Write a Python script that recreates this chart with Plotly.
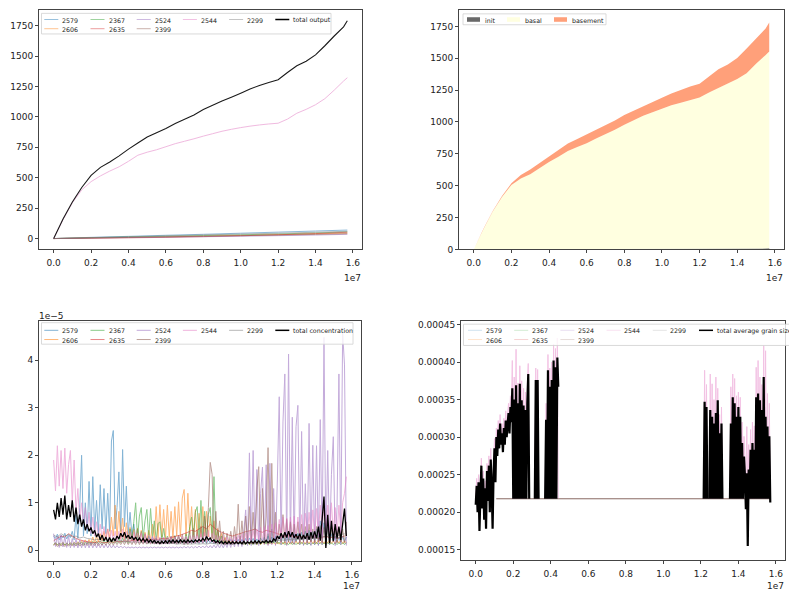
import numpy as np
import plotly.graph_objects as go

W, H = 789, 591
FONT = "DejaVu Sans"
TEXT = "#222222"
FRAME = "#444444"

PROVENANCE = ["2579", "2606", "2367", "2635", "2524", "2399", "2544", "2299"]
TAB10 = ["#1f77b4", "#ff7f0e", "#2ca02c", "#d62728", "#9467bd", "#8c564b", "#e377c2", "#7f7f7f"]

X_TICKS = [0.0, 0.2, 0.4, 0.6, 0.8, 1.0, 1.2, 1.4, 1.6]          # x 1e7 yr
X_TICK_TEXT = ["0.0", "0.2", "0.4", "0.6", "0.8", "1.0", "1.2", "1.4", "1.6"]
OUT_TICKS = [0, 250, 500, 750, 1000, 1250, 1500, 1750]
CONC_TICKS = [0, 1, 2, 3, 4]                                       # x 1e-5
GS_TICKS = [0.00015, 0.00020, 0.00025, 0.00030, 0.00035, 0.00040, 0.00045]
GS_TICK_TEXT = ["0.00015", "0.00020", "0.00025", "0.00030", "0.00035", "0.00040", "0.00045"]

# ---------------- cumulative output (time in 1e7 yr) ----------------
t_out = [0.00, 0.05, 0.10, 0.15, 0.20, 0.25, 0.30, 0.35, 0.40, 0.45, 0.50,
         0.55, 0.60, 0.65, 0.70, 0.75, 0.80, 0.85, 0.90, 0.95, 1.00, 1.05,
         1.10, 1.15, 1.20, 1.25, 1.30, 1.35, 1.40, 1.45, 1.50, 1.55, 1.57]
total_output = [0, 160, 300, 420, 520, 585, 630, 680, 735, 785, 835,
                870, 905, 945, 980, 1015, 1060, 1095, 1130, 1162, 1195, 1230,
                1258, 1283, 1305, 1365, 1420, 1458, 1510, 1585, 1665, 1740, 1790]
out_2544 = [0, 155, 295, 400, 468, 515, 555, 590, 635, 685, 710,
            730, 755, 780, 800, 820, 842, 862, 882, 898, 912, 924,
            934, 942, 948, 982, 1030, 1062, 1100, 1150, 1220, 1295, 1322]

t_out_minor = [0.0, 0.2, 0.4, 0.6, 0.8, 1.0, 1.2, 1.4, 1.57]
out_2579 = [0, 10, 18, 27, 35, 44, 53, 62, 70]
out_2606 = [0, 5, 9, 14, 20, 26, 32, 39, 45]
out_2367 = [0, 7, 13, 19, 25, 31, 38, 46, 55]
out_2635 = [0, 3, 6, 10, 16, 23, 31, 41, 52]
out_2524 = [0, 4, 8, 11, 15, 19, 24, 29, 35]
out_2399 = [0, 5, 10, 14, 19, 24, 29, 34, 40]
out_2299 = [0, 8, 15, 22, 30, 37, 44, 52, 60]

# ---------------- output by source ----------------
init_out = [0, 0.2, 0.5, 0.7, 1.0, 1.3, 1.5, 1.8, 2.1, 2.3, 2.6,
            2.9, 3.1, 3.4, 3.6, 3.9, 4.2, 4.4, 4.7, 5.0, 5.2, 5.5,
            5.8, 6.0, 6.3, 6.6, 6.9, 7.1, 7.4, 7.7, 8.0, 8.3, 8.5]
basal_out = [0, 155, 295, 410, 505, 555, 588, 635, 685, 725, 770,
             800, 830, 868, 900, 935, 975, 1010, 1045, 1072, 1100, 1125,
             1145, 1165, 1185, 1225, 1262, 1295, 1330, 1375, 1450, 1515, 1545]
basement_out = [0, 4, 5, 8, 13, 28, 38, 41, 46, 55, 59,
                64, 69, 71, 72, 72, 76, 76, 75, 80, 85, 94,
                102, 107, 109, 128, 145, 149, 165, 194, 199, 209, 228]

# ---------------- concentration (x 1e-5), sampled every 0.01e7 yr ----------------
t_conc = np.round(np.arange(158) * 0.01, 2)
t_conc_coarse = np.round(np.arange(79) * 0.02, 2)

conc_2579 = [0.30, 0.25, 0.34, 0.22, 0.31, 0.26, 0.36, 0.24, 0.33, 0.27,
             0.40, 0.22, 0.75, 0.25, 0.90, 2.00, 0.30, 1.00, 0.35, 1.45,
             0.30, 1.55, 0.40, 1.05, 0.35, 1.38, 0.45, 1.30, 0.35, 1.20,
             0.40, 2.30, 2.52, 0.45, 0.90, 1.65, 0.40, 2.12, 0.50, 1.35,
             0.35, 0.80, 0.30, 0.55, 0.25, 0.45, 0.22, 0.40, 0.20, 0.35,
             0.18, 0.30, 0.17, 0.28, 0.16, 0.25, 0.15, 0.24, 0.15, 0.22,
             0.14, 0.21, 0.14, 0.22, 0.15, 0.20, 0.14, 0.21, 0.15, 0.20,
             0.14, 0.21, 0.15, 0.20, 0.14, 0.22, 0.15, 0.21, 0.14, 0.20,
             0.15, 0.21, 0.14, 0.22, 0.15, 0.20, 0.14, 0.21, 0.15, 0.22,
             0.15, 0.22, 0.16, 0.21, 0.15, 0.23, 0.16, 0.22, 0.15, 0.23,
             0.16, 0.23, 0.17, 0.25, 0.16, 0.26, 0.17, 0.25, 0.16, 0.24,
             0.17, 0.26, 0.18, 0.28, 0.17, 0.30, 0.18, 0.28, 0.17, 0.29,
             0.18, 0.30, 0.18, 0.32, 0.19, 0.33, 0.18, 0.35, 0.19, 0.34,
             0.19, 0.36, 0.20, 0.38, 0.20, 0.40, 0.21, 0.42, 0.20, 0.40,
             0.20, 0.45, 0.22, 0.62, 0.25, 0.58, 0.20, 0.55, 0.18, 0.35,
             0.18, 0.30, 0.17, 0.28, 0.16, 0.30, 0.18, 0.28]
conc_2606 = [0.12, 0.16, 0.11, 0.15, 0.12, 0.17, 0.11, 0.15, 0.12, 0.16,
             0.12, 0.17, 0.13, 0.18, 0.13, 0.20, 0.14, 0.22, 0.15, 0.23,
             0.15, 0.28, 0.16, 0.30, 0.18, 0.35, 0.20, 0.40, 0.22, 0.45,
             0.25, 0.70, 0.30, 0.95, 0.28, 0.82, 0.25, 0.68, 0.22, 0.58,
             0.22, 0.48, 0.20, 0.44, 0.22, 0.47, 0.20, 0.42, 0.18, 0.38,
             0.20, 0.42, 0.22, 0.55, 0.25, 0.92, 0.25, 0.96, 0.28, 0.86,
             0.25, 0.95, 0.28, 0.82, 0.25, 0.92, 0.30, 1.02, 0.28, 1.10,
             1.28, 0.30, 1.20, 0.35, 0.92, 0.28, 0.86, 0.30, 0.78, 0.28,
             0.92, 0.30, 0.82, 0.28, 0.72, 0.25, 0.62, 0.22, 0.46, 0.20,
             0.36, 0.18, 0.27, 0.16, 0.22, 0.15, 0.21, 0.14, 0.20, 0.14,
             0.19, 0.13, 0.18, 0.13, 0.18, 0.12, 0.17, 0.13, 0.18, 0.12,
             0.17, 0.12, 0.18, 0.13, 0.17, 0.12, 0.18, 0.13, 0.17, 0.12,
             0.18, 0.13, 0.19, 0.13, 0.18, 0.12, 0.19, 0.13, 0.18, 0.13,
             0.19, 0.13, 0.20, 0.14, 0.19, 0.13, 0.20, 0.14, 0.21, 0.14,
             0.21, 0.14, 0.22, 0.15, 0.20, 0.14, 0.21, 0.15, 0.22, 0.14,
             0.20, 0.14, 0.21, 0.15, 0.22, 0.14, 0.20, 0.15]
conc_2367 = [0.12, 0.16, 0.11, 0.15, 0.12, 0.16, 0.11, 0.15, 0.12, 0.15,
             0.12, 0.16, 0.12, 0.16, 0.13, 0.17, 0.12, 0.17, 0.13, 0.18,
             0.13, 0.19, 0.14, 0.19, 0.14, 0.20, 0.14, 0.21, 0.15, 0.22,
             0.15, 0.23, 0.15, 0.24, 0.16, 0.25, 0.16, 0.26, 0.17, 0.30,
             0.15, 0.45, 0.20, 0.60, 1.00, 0.25, 0.72, 0.90, 0.25, 0.62,
             0.86, 0.25, 0.88, 0.28, 0.62, 0.22, 0.56, 0.60, 0.20, 0.46,
             0.18, 0.30, 0.16, 0.30, 0.15, 0.31, 0.14, 0.30, 0.15, 0.26,
             0.15, 0.35, 0.18, 0.50, 0.70, 0.22, 0.80, 0.92, 0.25, 1.05,
             0.25, 0.82, 0.22, 0.76, 0.90, 0.25, 1.55, 0.20, 0.42, 0.18,
             0.30, 0.15, 0.22, 0.14, 0.19, 0.13, 0.17, 0.14, 0.16, 0.13,
             0.16, 0.12, 0.15, 0.12, 0.17, 0.12, 0.15, 0.12, 0.16, 0.12,
             0.16, 0.13, 0.17, 0.20, 0.13, 0.35, 0.14, 0.45, 0.15, 0.20,
             0.14, 0.17, 0.12, 0.17, 0.12, 0.15, 0.12, 0.17, 0.12, 0.16,
             0.12, 0.16, 0.12, 0.17, 0.12, 0.15, 0.12, 0.15, 0.12, 0.16,
             0.12, 0.17, 0.12, 0.16, 0.12, 0.16, 0.12, 0.16, 0.12, 0.16,
             0.12, 0.16, 0.12, 0.16, 0.12, 0.16, 0.12, 0.16]
conc_2635 = [0.20, 0.25, 0.30, 0.28, 0.35, 0.30, 0.25, 0.22, 0.20, 0.18,
             0.17, 0.16, 0.18, 0.17, 0.16, 0.18, 0.17, 0.19, 0.18, 0.20,
             0.19, 0.21, 0.20, 0.22, 0.21, 0.23, 0.22, 0.24, 0.23, 0.25,
             0.24, 0.26, 0.28, 0.30, 0.32, 0.35, 0.38, 0.42, 0.40, 0.45,
             0.50, 0.45, 0.55, 0.48, 0.42, 0.38, 0.35, 0.32, 0.30, 0.33,
             0.35, 0.38, 0.40, 0.42, 0.45, 0.40, 0.38, 0.42, 0.40, 0.38,
             0.35, 0.33, 0.30, 0.32, 0.30, 0.28, 0.30, 0.27, 0.29, 0.26,
             0.28, 0.25, 0.27, 0.30, 0.26, 0.28, 0.25, 0.27, 0.30]
conc_2524 = [0.35, 0.08, 0.30, 0.06, 0.32, 0.07, 0.28, 0.06, 0.30, 0.05,
             0.25, 0.06, 0.24, 0.05, 0.22, 0.05, 0.20, 0.05, 0.19, 0.05,
             0.17, 0.05, 0.16, 0.05, 0.15, 0.05, 0.14, 0.05, 0.13, 0.05,
             0.12, 0.05, 0.11, 0.05, 0.10, 0.05, 0.09, 0.05, 0.08, 0.05,
             0.07, 0.05, 0.07, 0.05, 0.07, 0.05, 0.07, 0.05, 0.07, 0.05,
             0.07, 0.05, 0.07, 0.05, 0.07, 0.05, 0.07, 0.05, 0.07, 0.05,
             0.07, 0.05, 0.07, 0.05, 0.07, 0.05, 0.07, 0.05, 0.07, 0.05,
             0.08, 0.05, 0.08, 0.05, 0.08, 0.05, 0.08, 0.05, 0.09, 0.05,
             0.09, 0.05, 0.10, 0.05, 0.10, 0.05, 0.11, 0.05, 0.12, 0.05,
             0.13, 0.05, 0.15, 0.06, 0.18, 0.06, 0.22, 0.07, 0.28, 0.08,
             0.30, 0.08, 0.40, 0.85, 0.10, 2.05, 0.10, 2.10, 0.12, 1.70,
             0.10, 1.20, 1.75, 0.12, 1.80, 0.10, 1.83, 0.12, 1.30, 0.10,
             1.50, 3.23, 0.12, 2.70, 3.71, 0.10, 4.13, 0.15, 2.80, 0.12,
             2.60, 3.05, 0.12, 2.50, 0.10, 1.40, 0.12, 2.67, 0.10, 2.21,
             0.12, 2.20, 0.10, 2.75, 0.12, 4.48, 0.10, 2.10, 0.12, 1.60,
             2.39, 0.10, 0.90, 3.71, 0.12, 4.57, 3.90, 0.10]
conc_2399 = [0.10, 0.14, 0.08, 0.12, 0.09, 0.13, 0.08, 0.12, 0.09, 0.13,
             0.09, 0.13, 0.09, 0.14, 0.09, 0.13, 0.10, 0.14, 0.10, 0.15,
             0.10, 0.15, 0.10, 0.16, 0.10, 0.15, 0.11, 0.16, 0.11, 0.17,
             0.11, 0.17, 0.11, 0.18, 0.12, 0.18, 0.12, 0.19, 0.12, 0.20,
             0.12, 0.19, 0.12, 0.20, 0.12, 0.21, 0.12, 0.20, 0.13, 0.22,
             0.13, 0.22, 0.13, 0.23, 0.13, 0.24, 0.14, 0.25, 0.14, 0.26,
             0.14, 0.26, 0.14, 0.28, 0.14, 0.30, 0.14, 0.32, 0.14, 0.34,
             0.12, 0.28, 0.12, 0.38, 0.14, 0.46, 0.15, 0.42, 0.15, 0.50,
             0.15, 0.72, 0.15, 0.90, 1.85, 1.60, 0.15, 0.82, 0.14, 0.62,
             0.14, 0.40, 0.12, 0.36, 0.14, 0.40, 0.12, 0.50, 0.14, 0.97,
             0.14, 0.62, 0.12, 0.72, 0.15, 0.92, 0.14, 0.80, 0.15, 1.27,
             1.76, 0.15, 1.30, 0.18, 0.70, 2.16, 0.15, 1.83, 0.18, 0.80,
             0.15, 0.55, 0.18, 0.75, 0.15, 0.65, 0.18, 0.60, 0.15, 0.55,
             0.18, 0.60, 0.15, 0.55, 0.18, 0.50, 0.15, 0.55, 0.18, 0.45,
             0.15, 0.50, 0.18, 0.52, 0.15, 0.48, 0.18, 0.50, 0.15, 0.45,
             0.18, 0.48, 0.15, 0.46, 0.18, 0.45, 0.15, 0.60]
conc_2544 = [1.90, 1.25, 2.20, 1.35, 2.10, 1.30, 2.15, 1.20, 1.80, 2.10,
             1.00, 1.90, 0.80, 1.30, 0.60, 1.00, 0.55, 0.90, 0.45, 0.80,
             0.35, 0.70, 0.30, 0.60, 0.28, 0.55, 0.25, 0.50, 0.22, 0.45,
             0.20, 0.42, 0.20, 0.40, 0.18, 0.40, 0.20, 0.45, 0.18, 0.40,
             0.18, 0.40, 0.17, 0.38, 0.16, 0.36, 0.16, 0.36, 0.15, 0.34,
             0.15, 0.32, 0.14, 0.30, 0.14, 0.30, 0.13, 0.28, 0.13, 0.28,
             0.13, 0.28, 0.13, 0.30, 0.14, 0.28, 0.13, 0.30, 0.14, 0.30,
             0.14, 0.30, 0.14, 0.30, 0.15, 0.31, 0.15, 0.33, 0.16, 0.35,
             0.16, 0.38, 0.18, 0.42, 0.17, 0.36, 0.16, 0.32, 0.15, 0.30,
             0.14, 0.29, 0.13, 0.28, 0.13, 0.27, 0.14, 0.30, 0.14, 0.32,
             0.15, 0.35, 0.15, 0.36, 0.16, 0.40, 0.17, 0.42, 0.18, 0.45,
             0.18, 0.48, 0.20, 0.50, 0.20, 0.52, 0.22, 0.55, 0.22, 0.58,
             0.25, 0.65, 0.25, 0.70, 0.28, 0.68, 0.26, 0.70, 0.28, 0.72,
             0.26, 0.70, 0.28, 0.75, 0.30, 0.78, 0.28, 0.80, 0.30, 0.85,
             0.30, 0.88, 0.32, 0.95, 0.30, 1.05, 0.35, 0.95, 0.32, 1.00,
             0.35, 0.90, 0.30, 0.95, 0.35, 1.00, 1.20, 1.55]
conc_2299 = [0.32, 0.28, 0.35, 0.30, 0.33, 0.28, 0.30, 0.26, 0.28, 0.25,
             0.24, 0.22, 0.23, 0.21, 0.22, 0.20, 0.21, 0.19, 0.20, 0.18,
             0.19, 0.17, 0.18, 0.16, 0.17, 0.15, 0.16, 0.15, 0.16, 0.14,
             0.15, 0.14, 0.15, 0.13, 0.14, 0.13, 0.14, 0.13, 0.14, 0.13,
             0.14, 0.13, 0.15, 0.14, 0.13, 0.14, 0.13, 0.14, 0.13, 0.14,
             0.14, 0.15, 0.14, 0.16, 0.15, 0.17, 0.16, 0.18, 0.17, 0.19,
             0.20, 0.22, 0.21, 0.23, 0.22, 0.24, 0.23, 0.25, 0.24, 0.26,
             0.25, 0.28, 0.30, 0.27, 0.32, 0.28, 0.30, 0.33, 0.35]
conc_total = [0.85, 0.65, 1.00, 0.70, 1.10, 0.75, 1.15, 0.65, 0.95, 0.70,
              1.05, 0.60, 0.90, 0.55, 0.75, 0.50, 0.65, 0.42, 0.55, 0.40,
              0.48, 0.35, 0.42, 0.28, 0.35, 0.22, 0.32, 0.20, 0.28, 0.18,
              0.27, 0.18, 0.26, 0.20, 0.30, 0.24, 0.36, 0.28, 0.38, 0.26,
              0.32, 0.24, 0.30, 0.22, 0.28, 0.20, 0.26, 0.19, 0.25, 0.18,
              0.24, 0.17, 0.22, 0.16, 0.21, 0.15, 0.19, 0.14, 0.19, 0.15,
              0.20, 0.15, 0.21, 0.16, 0.22, 0.16, 0.21, 0.16, 0.22, 0.17,
              0.21, 0.16, 0.22, 0.17, 0.21, 0.17, 0.22, 0.18, 0.23, 0.19,
              0.25, 0.20, 0.29, 0.22, 0.26, 0.19, 0.22, 0.16, 0.20, 0.15,
              0.19, 0.14, 0.18, 0.14, 0.19, 0.14, 0.18, 0.14, 0.18, 0.14,
              0.18, 0.14, 0.19, 0.14, 0.18, 0.15, 0.19, 0.15, 0.20, 0.15,
              0.20, 0.15, 0.19, 0.16, 0.21, 0.16, 0.20, 0.17, 0.24, 0.20,
              0.30, 0.24, 0.36, 0.26, 0.38, 0.27, 0.40, 0.28, 0.38, 0.26,
              0.34, 0.24, 0.35, 0.23, 0.32, 0.24, 0.36, 0.22, 0.38, 0.25,
              0.40, 0.25, 0.50, 0.20, 0.65, 1.13, 0.05, 0.75, 0.15, 0.62,
              0.20, 0.55, 0.25, 0.50, 0.22, 0.55, 0.88, 0.30]

# ---------------- average grain size (micrometres) ----------------
t_gs_a = np.round(np.arange(89) * 0.005, 3)
t_gs_b = np.round(1.215 + np.arange(72) * 0.005, 3)
t_gs_absent = [0.11, 1.57]
gs_absent = [218, 218]

gs_total_a = [210, 235, 200, 240, 175, 225, 262, 205, 245, 190,
              232, 178, 255, 215, 262, 200, 270, 232, 178, 250,
              285, 240, 300, 275, 310, 285, 318, 290, 305, 280,
              312, 290, 322, 300, 318, 332, 305, 340, 320, 365,
              218, 350, 218, 369, 218, 345, 218, 371, 218, 349,
              218, 342, 218, 336, 218, 345, 384, 218, None, None,
              None, None, None, 218, 376, 218, 376, 218, None, None,
              None, None, None, None, 218, 323, 218, 389, 218, 367,
              218, 376, 218, 402, 218, 393, 218, 406, 367]
gs_total_b = [218, 347, 218, 340, 218, None, 218, 336, 218, 327,
              218, 318, 218, 332, 218, 349, 218, 305, 218, 318,
              218, None, None, None, None, None, None, None, 218, 318,
              218, 353, 218, 345, 218, 327, 218, 340, 218, 327,
              218, 292, 218, 274, 248, 204, 252, 155, 257, 218,
              283, 218, 292, 218, 283, 218, 353, 218, 358, 218,
              349, 218, 336, 218, 380, 218, 327, 218, 314, 218,
              301, 213]
gs_2544_a = [220, 245, 210, 250, 185, 235, 272, 215, 255, 200,
             242, 188, 265, 225, 275, 210, 285, 245, 190, 265,
             298, 255, 312, 290, 322, 300, 330, 305, 318, 295,
             325, 305, 335, 315, 330, 345, 320, 355, 335, 402,
             218, 380, 218, 417, 218, 372, 218, 395, 218, 375,
             218, 365, 218, 360, 218, 372, 398, 218, None, None,
             None, None, None, 218, 392, 218, 390, 218, None, None,
             None, None, None, None, 218, 345, 218, 410, 218, 392,
             218, 400, 218, 424, 218, 418, 218, 432, 218]
gs_2544_b = [218, 389, 218, 370, 218, None, 218, 384, 218, 371,
             218, 350, 218, 380, 218, 365, 218, 330, 218, 340,
             218, None, None, None, None, None, None, None, 218, 367,
             218, 384, 218, 378, 218, 355, 218, 360, 218, 353,
             218, 320, 218, 301, 270, 240, 314, 218, 290, 218,
             310, 218, 320, 218, 315, 218, 393, 218, 402, 218,
             380, 218, 370, 218, 422, 218, 415, 218, 358, 218,
             345, 218]

# ---------------- layout helpers ----------------
def px2x(px):
    return px / W


def px2y(py):
    return 1 - py / H


# axes boxes in pixels: left, right, top, bottom
BOX_TL = (39, 362, 9, 251)
BOX_TR = (459, 784, 9, 251)
BOX_BL = (39, 361, 323, 566)
BOX_BR = (461, 785, 323, 565)
X_RANGE = [-0.0785e7, 1.6485e7]


def xt(vals):
    return [None if v is None else v * 1e7 for v in vals]


def scale(vals, f):
    return [None if v is None else v * f for v in vals]


fig = go.Figure()


def line(x, y, ax, color, alpha, width=1.0):
    fig.add_trace(go.Scatter(
        x=x, y=y, mode="lines", xaxis="x" + ax, yaxis="y" + ax,
        line=dict(color=color, width=width, simplify=False),
        opacity=alpha, hoverinfo="skip", showlegend=False, connectgaps=False))


# top-left: cumulative output per provenance
minor_out = [out_2579, out_2606, out_2367, out_2635, out_2524, out_2399]
for vals, col in zip(minor_out, TAB10[:6]):
    line(xt(t_out_minor), vals, "", col, 0.5)
line(xt(t_out), out_2544, "", TAB10[6], 0.5)
line(xt(t_out_minor), out_2299, "", TAB10[7], 0.5)
line(xt(t_out), total_output, "", "#1a1a1a", 1.0, 1.1)

# top-right: stacked output by source
for vals, col in [(init_out, "#696969"), (basal_out, "#ffffe0"), (basement_out, "#ffa07a")]:
    fig.add_trace(go.Scatter(
        x=xt(t_out), y=vals, mode="lines", xaxis="x2", yaxis="y2",
        stackgroup="src", line=dict(width=0, color=col), fillcolor=col,
        hoverinfo="skip", showlegend=False))

# bottom-left: concentration
fine = xt(list(t_conc))
coarse = xt(list(t_conc_coarse))
conc_series = [(fine, conc_2579), (fine, conc_2606), (fine, conc_2367), (coarse, conc_2635),
               (fine, conc_2524), (fine, conc_2399), (fine, conc_2544), (coarse, conc_2299)]
for (tx, vals), col in zip(conc_series, TAB10):
    line(tx[:len(vals)], scale(vals, 1e-5), "3", col, 0.55)
line(fine[:len(conc_total)], scale(conc_total, 1e-5), "3", "#000000", 1.0, 1.3)

# bottom-right: average grain size
for col in TAB10[:6]:
    line(xt(t_gs_absent), scale(gs_absent, 1e-6), "4", col, 0.2)
line(xt(list(t_gs_a) + [None] + list(t_gs_b)),
     scale(gs_2544_a + [None] + gs_2544_b, 1e-6), "4", TAB10[6], 0.45)
line(xt(t_gs_absent), scale(gs_absent, 1e-6), "4", TAB10[7], 0.25)
line(xt(list(t_gs_a) + [None] + list(t_gs_b)),
     scale(gs_total_a + [None] + gs_total_b, 1e-6), "4", "#000000", 1.0, 2.2)

# ---------------- axes ----------------
common = dict(showline=True, linecolor=FRAME, linewidth=1, mirror=True,
              ticks="outside", ticklen=3, tickwidth=1, tickcolor=FRAME,
              showgrid=False, zeroline=False,
              tickfont=dict(family=FONT, size=9, color=TEXT))


def xaxis(box, anchor):
    return dict(domain=[px2x(box[0]), px2x(box[1])], anchor=anchor, range=X_RANGE,
                tickvals=[v * 1e7 for v in X_TICKS], ticktext=X_TICK_TEXT,
                ticklabelstandoff=2, **common)


def yaxis(box, anchor, rng, vals, text):
    return dict(domain=[px2y(box[3]), px2y(box[2])], anchor=anchor, range=rng,
                tickvals=vals, ticktext=text, **common)


layout = dict(
    width=W, height=H, autosize=False,
    margin=dict(l=0, r=0, t=0, b=0),
    paper_bgcolor="white", plot_bgcolor="white",
    font=dict(family=FONT, color=TEXT),
    xaxis=xaxis(BOX_TL, "y"),
    yaxis=yaxis(BOX_TL, "x", [-89.5, 1879.5], OUT_TICKS, [str(v) for v in OUT_TICKS]),
    xaxis2=xaxis(BOX_TR, "y2"),
    yaxis2=yaxis(BOX_TR, "x2", [0, 1879.5], OUT_TICKS, [str(v) for v in OUT_TICKS]),
    xaxis3=xaxis(BOX_BL, "y3"),
    yaxis3=yaxis(BOX_BL, "x3", [-0.23e-5, 4.83e-5], [v * 1e-5 for v in CONC_TICKS],
                 [str(v) for v in CONC_TICKS]),
    xaxis4=xaxis(BOX_BR, "y4"),
    yaxis4=yaxis(BOX_BR, "x4", [0.000136, 0.000455], GS_TICKS, GS_TICK_TEXT),
)

# ---------------- legends and offset labels ----------------
shapes, annotations = [], []


def text(px, py, s, size, anchor="left"):
    annotations.append(dict(xref="paper", yref="paper", x=px2x(px), y=px2y(py), text=s,
                            showarrow=False, xanchor=anchor, yanchor="middle",
                            borderpad=0, borderwidth=0,
                            font=dict(family=FONT, size=size, color=TEXT)))


def legend_frame(x0, x1, y0, y1):
    shapes.append(dict(type="rect", xref="paper", yref="paper", layer="above",
                       x0=px2x(x0), x1=px2x(x1), y0=px2y(y1), y1=px2y(y0),
                       fillcolor="rgba(255,255,255,0.8)", line=dict(color="#d0d0d0", width=0.8)))


def legend_line(px, py, color, alpha, width):
    shapes.append(dict(type="line", xref="paper", yref="paper", layer="above",
                       x0=px2x(px), x1=px2x(px + 14), y0=px2y(py), y1=px2y(py),
                       opacity=alpha, line=dict(color=color, width=width)))


def legend_patch(px, py, color):
    shapes.append(dict(type="rect", xref="paper", yref="paper", layer="above",
                       x0=px2x(px), x1=px2x(px + 13), y0=px2y(py + 2.3), y1=px2y(py - 2.3),
                       fillcolor=color, line=dict(width=0)))


def six_column_legend(box, total_label, alpha, frame_right, first, gap, dy0, dy1):
    left, top = box[0], box[2]
    legend_frame(left + 2.5, frame_right, top + dy0, top + dy1)
    labels = PROVENANCE + [total_label]
    colors = TAB10 + ["#000000"]
    for i, (lab, col) in enumerate(zip(labels, colors)):
        c, r = (i // 2, i % 2) if i < 6 else (i - 3, 0)
        hx = left + first + c * 46.2
        hy = top + 9.7 + r * 9.3
        if i == 8:
            legend_line(hx, hy, col, 1.0, 1.5)
        else:
            legend_line(hx, hy, col, alpha, 1.0)
        text(hx + gap, hy + 0.5, lab, 6.3)


six_column_legend(BOX_TL, "total output", 0.45, 331, 5.3, 18, 3.5, 24.3)
six_column_legend(BOX_BL, "total concentration", 0.55, 353, 5.3, 18, 2.0, 23.7)
six_column_legend(BOX_BR, "total average grain size", 0.2, 800, 7.0, 17.5, 3.5, 25.0)

# stacked-source legend (single row of patches)
legend_frame(BOX_TR[0] + 4, 606, BOX_TR[2] + 4, BOX_TR[2] + 15)
for off, lab, col in [(8, "init", "#696969"), (48, "basal", "#ffffe0"), (95, "basement", "#ffa07a")]:
    legend_patch(BOX_TR[0] + off, BOX_TR[2] + 9.7, col)
    text(BOX_TR[0] + off + 18, BOX_TR[2] + 10.2, lab, 6.3)

# axis offset labels
for box in (BOX_TL, BOX_TR):
    text(box[1] - 1, 279.5, "1e7", 9, "right")
for box in (BOX_BL, BOX_BR):
    text(box[1] - 1, 590.5, "1e7", 9, "right")
text(BOX_BL[0], 318.5, "1e\u22125", 9)

layout["shapes"] = shapes
layout["annotations"] = annotations
fig.update_layout(**layout)
fig.write_html("out.html")
